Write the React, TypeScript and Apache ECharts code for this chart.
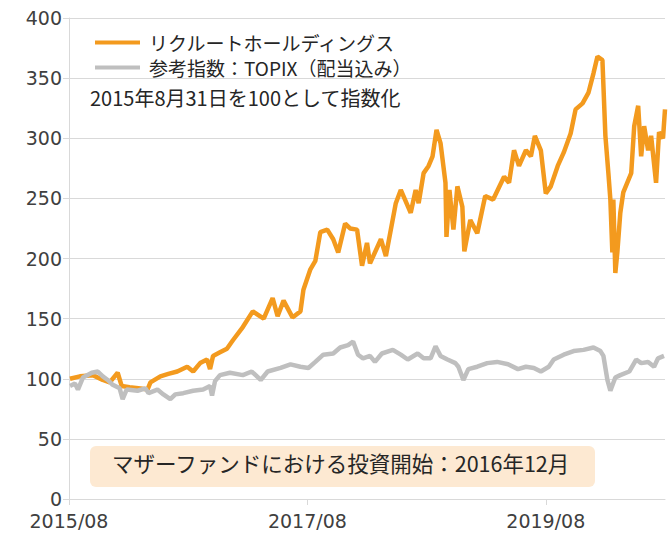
import React, { useEffect, useRef } from "react";
import * as echarts from "echarts";

// x values: months elapsed since 2015/08/31
const START_YEAR = 2015;
const START_MONTH = 8;
const xTickMonths = [0, 24, 48];

const recruitName = "リクルートホールディングス";
const topixName = "参考指数：TOPIX（配当込み）";
const baseNote = "2015年8月31日を100として指数化";
const investNote = "マザーファンドにおける投資開始：2016年12月";

const recruitMonths = [
  0.1, 1.1, 2.4, 3.4, 4.1, 4.9, 5.3, 6.1, 7.2, 7.9, 8.2, 9.2, 10.0, 10.9, 11.9, 12.5,
  13.2, 13.9, 14.2, 14.5, 15.2, 15.9, 16.5, 17.5, 18.5, 19.6, 20.5, 21.0, 21.6, 22.5,
  23.3, 23.6, 24.3, 24.8, 25.3, 26.0, 26.6, 27.1, 27.8, 28.3, 29.0, 29.5, 30.0, 30.3,
  31.4, 31.9, 32.4, 32.9, 33.4, 34.4, 34.9, 35.2, 35.7, 36.2, 36.6, 37.0, 37.4, 37.9,
  38.0, 38.3, 38.7, 39.1, 39.6, 39.8, 40.4, 41.1, 41.9, 42.7, 43.8, 44.3, 44.8, 45.3,
  46.0, 46.5, 46.9, 47.5, 48.0, 48.5, 49.2, 49.8, 50.5, 51.0, 51.7, 52.3, 52.8, 53.2,
  53.7, 54.0, 54.3, 54.5, 54.7, 54.8, 55.0, 55.2, 55.5, 55.8, 56.6, 56.9, 57.3, 57.6,
  57.9, 58.3, 58.6, 59.1, 59.4, 59.8, 60.0,
];
const recruitValues = [
  100, 102, 103, 99, 97, 105, 94, 93, 92, 91, 97, 102, 104, 106, 110, 106,
  113, 116, 108, 119, 122, 125, 132, 143, 156, 150, 167, 152, 165, 151,
  156, 174, 191, 198, 222, 224, 216, 205, 229, 225, 224, 194, 213, 196,
  216, 202, 224, 246, 257, 238, 257, 246, 271, 277, 285, 307, 296, 263,
  218, 257, 224, 260, 243, 206, 232, 221, 252, 249, 268, 263, 290, 277,
  290, 285, 302, 290, 254, 260, 277, 288, 304, 324, 329, 338, 354, 368,
  365, 302, 271, 249, 205, 249, 188, 205, 238, 255, 271, 310, 327, 285,
  310, 290, 302, 263, 305, 300, 324,
];

const topixMonths = [
  0.1, 0.6, 0.9, 1.4, 2.3, 2.9, 3.4, 3.9, 4.4, 5.1, 5.4, 5.8, 6.9, 7.7, 8.0, 8.9,
  9.5, 10.2, 10.7, 11.5, 12.5, 13.5, 14.2, 14.4, 14.7, 15.2, 16.2, 17.5, 18.4, 19.3,
  20.0, 21.3, 22.3, 23.3, 24.1, 24.8, 25.6, 26.6, 27.3, 28.1, 28.6, 29.1, 29.6, 30.3,
  30.8, 31.5, 32.6, 33.4, 34.1, 35.1, 35.7, 36.4, 36.9, 37.4, 38.1, 38.9, 39.2, 39.7,
  40.2, 41.1, 42.1, 43.1, 44.2, 45.2, 46.0, 46.8, 47.5, 48.3, 48.8, 49.8, 50.8, 51.8,
  52.8, 53.5, 53.8, 54.2, 54.5, 55.0, 55.5, 56.4, 57.1, 57.6, 58.3, 58.9, 59.3, 59.9,
];
const topixValues = [
  94, 96, 91, 101, 105, 106, 102, 99, 95, 92, 83, 91, 90, 92, 88, 91,
  87, 83, 87, 88, 90, 91, 94, 86, 98, 103, 105, 103, 106, 99,
  106, 109, 112, 110, 109, 114, 120, 121, 126, 128, 131, 120, 117, 119,
  114, 121, 124, 120, 116, 121, 117, 117, 127, 119, 116, 113, 110, 99,
  108, 110, 113, 114, 112, 108, 110, 109, 106, 110, 116, 120, 123, 124,
  126, 123, 119, 99, 90, 101, 103, 106, 116, 113, 114, 110, 117, 119,
];

const JP_FONT = "'Noto Sans CJK JP', sans-serif";
const AXIS_FONT = "'DejaVu Sans', Verdana, sans-serif";

function monthLabel(m: number): string {
  const total = START_YEAR * 12 + (START_MONTH - 1) + Math.round(m);
  const y = Math.floor(total / 12);
  const mo = (total % 12) + 1;
  return `${y}/${String(mo).padStart(2, "0")}`;
}

export default function App() {
  const ref = useRef<HTMLDivElement>(null);

  useEffect(() => {
    document.body.style.margin = "0";
    if (!ref.current) return;
    const chart = echarts.init(ref.current, undefined, { renderer: "svg" });
    chart.setOption({
      animation: false,
      backgroundColor: "#ffffff",
      grid: { left: 69, right: 6, top: 18, bottom: 39, containLabel: false },
      legend: {
        orient: "vertical",
        left: 90,
        top: 28,
        icon: "rect",
        itemWidth: 45,
        itemHeight: 4,
        itemGap: 6,
        data: [recruitName, topixName],
        textStyle: {
          fontSize: 19,
          lineHeight: 19,
          color: "#262626",
          fontFamily: JP_FONT,
          padding: [0, 0, 0, 4],
        },
      },
      xAxis: {
        type: "value",
        min: 0,
        max: 60,
        interval: 24,
        axisLine: { show: true, lineStyle: { color: "#d9d9d9", width: 1 } },
        axisTick: {
          show: true,
          length: 6,
          lineStyle: { color: "#d9d9d9" },
          customValues: xTickMonths,
        },
        axisLabel: {
          customValues: xTickMonths,
          formatter: (v: number) => monthLabel(v),
          fontSize: 19,
          color: "#404040",
          fontFamily: AXIS_FONT,
          margin: 12,
        },
        splitLine: { show: false },
      },
      yAxis: {
        type: "value",
        min: 0,
        max: 400,
        interval: 50,
        axisLine: { show: true, lineStyle: { color: "#d9d9d9", width: 1 } },
        axisTick: { show: true, length: 6, lineStyle: { color: "#d9d9d9" } },
        axisLabel: {
          fontSize: 19,
          color: "#404040",
          fontFamily: AXIS_FONT,
          margin: 7,
        },
        splitLine: { show: true, lineStyle: { color: "#d9d9d9", width: 1 } },
      },
      graphic: [
        {
          type: "text",
          left: 90,
          top: 87,
          style: {
            text: baseNote,
            fontSize: 20,
            fill: "#262626",
            fontFamily: JP_FONT,
          },
        },
        {
          type: "rect",
          left: 90,
          top: 446,
          shape: { width: 505, height: 41, r: 6 },
          style: { fill: "#fde9d2" },
          z: 5,
        },
        {
          type: "text",
          left: 112,
          top: 452,
          style: {
            text: investNote,
            fontSize: 21.5,
            fill: "#262626",
            fontFamily: JP_FONT,
          },
          z: 6,
        },
      ],
      series: [
        {
          name: recruitName,
          type: "line",
          data: recruitMonths.map((m, i) => [m, recruitValues[i]]),
          showSymbol: false,
          symbol: "none",
          lineStyle: { color: "#f39a1e", width: 4.5 },
          itemStyle: { color: "#f39a1e" },
        },
        {
          name: topixName,
          type: "line",
          data: topixMonths.map((m, i) => [m, topixValues[i]]),
          showSymbol: false,
          symbol: "none",
          lineStyle: { color: "#bfbfbf", width: 4.5 },
          itemStyle: { color: "#bfbfbf" },
        },
      ],
    });
    return () => chart.dispose();
  }, []);

  return <div ref={ref} style={{ width: 671, height: 538 }} />;
}
